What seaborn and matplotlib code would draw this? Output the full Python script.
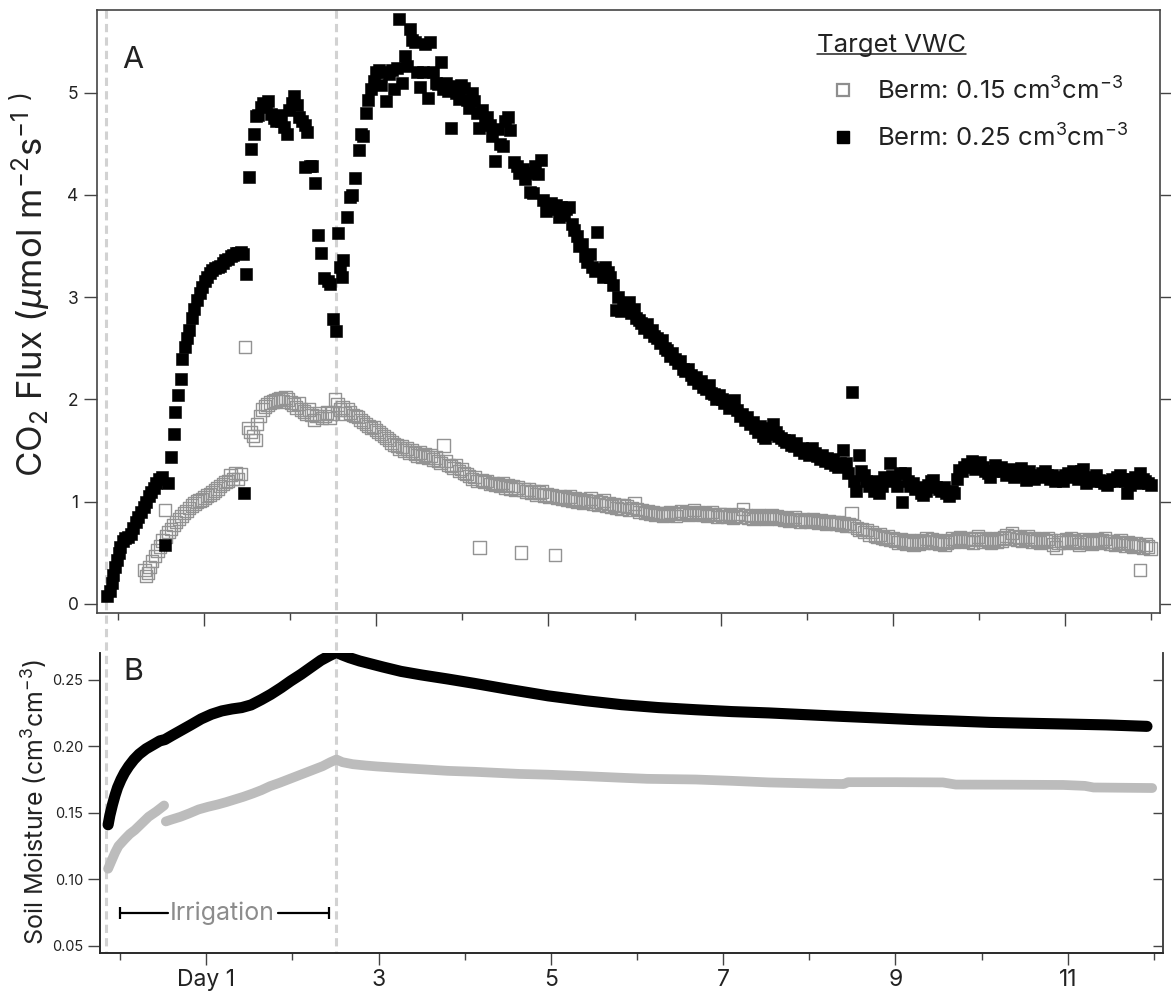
import matplotlib
matplotlib.use("Agg")
import numpy as np
import pandas as pd
import seaborn as sns
import matplotlib.pyplot as plt
from matplotlib.lines import Line2D
from matplotlib import transforms
from matplotlib.ticker import FixedLocator

# ---------------- data ----------------
# CO2 flux, target VWC 0.25 (black filled squares)
hi_day = [-0.12, -0.09, -0.07, -0.05, -0.03, -0.01, 0.01, 0.03, 0.06, 0.09, 0.12, 0.15, 0.18, 0.21, 0.24,
          0.27, 0.30, 0.33, 0.36, 0.39, 0.42, 0.45, 0.48, 0.52, 0.55, 0.58, 0.62, 0.65, 0.67, 0.70,
          0.73, 0.75, 0.78, 0.80, 0.83, 0.86, 0.89, 0.92, 0.95, 0.98, 1.01, 1.04, 1.07, 1.10, 1.13,
          1.16, 1.19, 1.22, 1.25, 1.28, 1.31, 1.34, 1.37, 1.40, 1.43, 1.46, 1.47, 1.49, 1.53, 1.55,
          1.58, 1.60, 1.63, 1.66, 1.69, 1.72, 1.75, 1.78, 1.81, 1.84, 1.87, 1.90, 1.93, 1.96, 1.99,
          2.02, 2.05, 2.08, 2.11, 2.14, 2.17, 2.18, 2.20, 2.23, 2.26, 2.29, 2.33, 2.36, 2.40, 2.44,
          2.47, 2.50, 2.53, 2.56, 2.58, 2.60, 2.62, 2.66, 2.70, 2.72, 2.76, 2.80, 2.83, 2.85, 2.88,
          2.91, 2.94, 2.97, 3.00, 3.03, 3.06, 3.09, 3.12, 3.15, 3.18, 3.21, 3.24, 3.27, 3.30, 3.33,
          3.36, 3.39, 3.42, 3.45, 3.48, 3.51, 3.54, 3.57, 3.60, 3.63, 3.66, 3.69, 3.72, 3.75, 3.78,
          3.81, 3.84, 3.87, 3.90, 3.93, 3.96, 3.99, 4.02, 4.05, 4.08, 4.11, 4.14, 4.17, 4.20, 4.23,
          4.26, 4.29, 4.32, 4.35, 4.38, 4.41, 4.44, 4.47, 4.50, 4.53, 4.56, 4.60, 4.63, 4.66, 4.70,
          4.73, 4.76, 4.79, 4.82, 4.85, 4.88, 4.91, 4.94, 4.97, 5.00, 5.03, 5.06, 5.09, 5.12, 5.15,
          5.18, 5.21, 5.24, 5.27, 5.30, 5.33, 5.36, 5.39, 5.42, 5.45, 5.48, 5.51, 5.54, 5.57, 5.60,
          5.63, 5.66, 5.69, 5.72, 5.75, 5.78, 5.81, 5.84, 5.87, 5.90, 5.93, 5.96, 5.99, 6.02, 6.05,
          6.08, 6.11, 6.14, 6.17, 6.20, 6.23, 6.26, 6.29, 6.32, 6.35, 6.38, 6.41, 6.44, 6.47, 6.50,
          6.53, 6.56, 6.59, 6.62, 6.65, 6.68, 6.71, 6.74, 6.77, 6.80, 6.83, 6.86, 6.89, 6.92, 6.95,
          6.98, 7.01, 7.04, 7.07, 7.10, 7.13, 7.16, 7.19, 7.22, 7.25, 7.28, 7.31, 7.34, 7.37, 7.40,
          7.43, 7.46, 7.49, 7.52, 7.55, 7.58, 7.61, 7.64, 7.67, 7.70, 7.73, 7.76, 7.79, 7.82, 7.85,
          7.88, 7.91, 7.94, 7.97, 8.00, 8.03, 8.06, 8.09, 8.12, 8.15, 8.18, 8.21, 8.24, 8.27, 8.30,
          8.33, 8.36, 8.39, 8.42, 8.45, 8.48, 8.52, 8.55, 8.57, 8.60, 8.63, 8.66, 8.69, 8.72, 8.75,
          8.78, 8.81, 8.84, 8.87, 8.90, 8.93, 8.96, 8.99, 9.02, 9.05, 9.08, 9.11, 9.14, 9.17, 9.20,
          9.23, 9.26, 9.29, 9.32, 9.35, 9.38, 9.41, 9.44, 9.47, 9.50, 9.53, 9.56, 9.59, 9.62, 9.65,
          9.68, 9.71, 9.74, 9.77, 9.80, 9.83, 9.86, 9.89, 9.92, 9.95, 9.98, 10.01, 10.04, 10.07, 10.10,
          10.13, 10.16, 10.19, 10.22, 10.25, 10.28, 10.31, 10.34, 10.37, 10.40, 10.43, 10.46, 10.49, 10.52, 10.55,
          10.58, 10.61, 10.64, 10.67, 10.70, 10.73, 10.76, 10.79, 10.82, 10.85, 10.88, 10.91, 10.94, 10.97, 11.00,
          11.03, 11.06, 11.09, 11.12, 11.15, 11.18, 11.21, 11.24, 11.27, 11.30, 11.33, 11.36, 11.39, 11.42, 11.45,
          11.48, 11.51, 11.54, 11.57, 11.60, 11.63, 11.66, 11.69, 11.72, 11.75, 11.78, 11.81, 11.84, 11.87, 11.90,
          11.93, 11.96, 11.99]
hi_flux = [0.08, 0.13, 0.20, 0.28, 0.36, 0.43, 0.50, 0.56, 0.61, 0.64, 0.65, 0.68, 0.74, 0.80, 0.85,
           0.90, 0.95, 1.00, 1.05, 1.09, 1.13, 1.18, 1.22, 1.24, 0.58, 1.18, 1.44, 1.66, 1.88, 2.04,
           2.20, 2.40, 2.51, 2.60, 2.68, 2.80, 2.88, 2.97, 3.04, 3.10, 3.16, 3.20, 3.24, 3.27, 3.29,
           3.30, 3.31, 3.33, 3.36, 3.37, 3.40, 3.41, 3.43, 3.43, 3.44, 3.42, 1.08, 3.23, 4.18, 4.45,
           4.60, 4.77, 4.78, 4.86, 4.90, 4.88, 4.92, 4.79, 4.75, 4.72, 4.78, 4.72, 4.67, 4.60, 4.83,
           4.90, 4.97, 4.88, 4.76, 4.72, 4.68, 4.27, 4.62, 4.28, 4.28, 4.12, 3.61, 3.43, 3.19, 3.16,
           3.13, 2.79, 2.67, 3.63, 3.30, 3.20, 3.36, 3.78, 3.98, 4.00, 4.17, 4.44, 4.60, 4.58, 4.80,
           4.93, 5.04, 5.12, 5.20, 5.22, 5.08, 5.20, 4.92, 5.18, 5.22, 5.04, 5.24, 5.72, 5.10, 5.36,
           5.26, 5.62, 5.52, 5.50, 5.20, 5.06, 5.20, 5.48, 4.95, 5.50, 5.20, 5.10, 5.09, 5.30, 5.04,
           5.10, 5.02, 4.66, 5.07, 5.00, 4.94, 5.08, 5.05, 4.93, 4.85, 5.00, 4.92, 4.80, 4.66, 4.83,
           4.72, 4.76, 4.68, 4.58, 4.33, 4.65, 4.50, 4.48, 4.72, 4.76, 4.64, 4.32, 4.28, 4.22, 4.25,
           4.16, 4.22, 4.03, 4.02, 4.28, 4.21, 4.34, 3.95, 3.84, 3.90, 3.92, 3.86, 3.90, 3.78, 3.88,
           3.80, 3.86, 3.88, 3.72, 3.66, 3.60, 3.50, 3.52, 3.40, 3.34, 3.42, 3.30, 3.26, 3.64, 3.28,
           3.20, 3.30, 3.25, 3.20, 3.12, 2.87, 3.00, 2.86, 2.92, 2.88, 2.95, 2.85, 2.88, 2.80, 2.78,
           2.75, 2.70, 2.74, 2.66, 2.68, 2.62, 2.60, 2.55, 2.58, 2.50, 2.48, 2.42, 2.45, 2.40, 2.36,
           2.38, 2.30, 2.28, 2.30, 2.24, 2.20, 2.22, 2.16, 2.18, 2.12, 2.10, 2.14, 2.06, 2.05, 2.00,
           2.04, 2.00, 1.96, 1.98, 1.92, 1.95, 1.99, 1.90, 1.84, 1.86, 1.80, 1.83, 1.76, 1.78, 1.72,
           1.68, 1.74, 1.64, 1.62, 1.66, 1.72, 1.76, 1.68, 1.64, 1.62, 1.60, 1.58, 1.60, 1.55, 1.54,
           1.57, 1.50, 1.52, 1.48, 1.50, 1.46, 1.52, 1.48, 1.45, 1.42, 1.46, 1.40, 1.43, 1.38, 1.42,
           1.36, 1.34, 1.38, 1.50, 1.38, 1.28, 2.07, 1.20, 1.10, 1.46, 1.30, 1.26, 1.20, 1.15, 1.18,
           1.10, 1.20, 1.08, 1.15, 1.24, 1.20, 1.38, 1.25, 1.22, 1.15, 1.28, 1.00, 1.28, 1.20, 1.15,
           1.18, 1.12, 1.14, 1.08, 1.06, 1.10, 1.16, 1.20, 1.21, 1.14, 1.12, 1.10, 1.14, 1.08, 1.05,
           1.10, 1.08, 1.22, 1.31, 1.30, 1.34, 1.37, 1.36, 1.40, 1.32, 1.38, 1.39, 1.34, 1.30, 1.28,
           1.24, 1.30, 1.36, 1.32, 1.34, 1.30, 1.26, 1.28, 1.32, 1.24, 1.28, 1.30, 1.33, 1.26, 1.21,
           1.30, 1.25, 1.22, 1.26, 1.24, 1.28, 1.30, 1.26, 1.22, 1.26, 1.20, 1.24, 1.22, 1.20, 1.26,
           1.28, 1.24, 1.30, 1.26, 1.22, 1.30, 1.32, 1.18, 1.24, 1.22, 1.20, 1.26, 1.21, 1.20, 1.18,
           1.16, 1.20, 1.22, 1.20, 1.24, 1.26, 1.22, 1.20, 1.08, 1.16, 1.22, 1.24, 1.18, 1.28, 1.22,
           1.20, 1.18, 1.16]

# CO2 flux, target VWC 0.15 (grey open squares)
lo_day = [0.31, 0.33, 0.35, 0.37, 0.40, 0.43, 0.46, 0.49, 0.52, 0.55, 0.56, 0.59, 0.62, 0.65, 0.68,
          0.71, 0.74, 0.77, 0.80, 0.83, 0.86, 0.89, 0.92, 0.95, 0.98, 1.01, 1.04, 1.07, 1.10, 1.13,
          1.16, 1.19, 1.22, 1.25, 1.28, 1.31, 1.34, 1.37, 1.40, 1.43, 1.48, 1.51, 1.54, 1.57, 1.60,
          1.62, 1.65, 1.68, 1.71, 1.74, 1.77, 1.80, 1.83, 1.86, 1.89, 1.92, 1.95, 1.98, 2.01, 2.04,
          2.07, 2.10, 2.13, 2.16, 2.19, 2.22, 2.25, 2.28, 2.31, 2.34, 2.37, 2.40, 2.43, 2.46, 2.49,
          2.52, 2.55, 2.58, 2.61, 2.64, 2.67, 2.70, 2.73, 2.76, 2.79, 2.82, 2.85, 2.88, 2.91, 2.94,
          2.97, 3.00, 3.03, 3.06, 3.09, 3.12, 3.15, 3.18, 3.21, 3.24, 3.27, 3.30, 3.33, 3.36, 3.39,
          3.42, 3.45, 3.48, 3.51, 3.54, 3.57, 3.60, 3.63, 3.66, 3.69, 3.72, 3.75, 3.78, 3.81, 3.84,
          3.87, 3.90, 3.93, 3.96, 3.99, 4.02, 4.05, 4.08, 4.11, 4.14, 4.17, 4.20, 4.23, 4.26, 4.29,
          4.32, 4.35, 4.38, 4.41, 4.44, 4.47, 4.50, 4.53, 4.56, 4.59, 4.62, 4.65, 4.68, 4.71, 4.74,
          4.77, 4.80, 4.83, 4.86, 4.89, 4.92, 4.95, 4.98, 5.01, 5.04, 5.08, 5.10, 5.13, 5.16, 5.19,
          5.22, 5.25, 5.28, 5.31, 5.34, 5.37, 5.40, 5.43, 5.46, 5.49, 5.52, 5.55, 5.58, 5.61, 5.64,
          5.67, 5.70, 5.73, 5.76, 5.79, 5.82, 5.85, 5.88, 5.91, 5.94, 5.97, 6.00, 6.03, 6.06, 6.09,
          6.12, 6.15, 6.18, 6.21, 6.24, 6.27, 6.30, 6.33, 6.36, 6.39, 6.42, 6.45, 6.48, 6.51, 6.54,
          6.57, 6.60, 6.63, 6.66, 6.69, 6.72, 6.75, 6.78, 6.81, 6.84, 6.87, 6.90, 6.93, 6.96, 6.99,
          7.02, 7.05, 7.08, 7.11, 7.14, 7.17, 7.20, 7.23, 7.26, 7.29, 7.32, 7.35, 7.38, 7.41, 7.44,
          7.47, 7.50, 7.53, 7.56, 7.59, 7.62, 7.65, 7.68, 7.71, 7.74, 7.77, 7.80, 7.83, 7.86, 7.89,
          7.92, 7.95, 7.98, 8.01, 8.04, 8.07, 8.10, 8.13, 8.16, 8.19, 8.22, 8.25, 8.28, 8.31, 8.34,
          8.37, 8.40, 8.43, 8.46, 8.49, 8.52, 8.55, 8.58, 8.61, 8.64, 8.67, 8.70, 8.73, 8.76, 8.79,
          8.82, 8.85, 8.88, 8.91, 8.94, 8.97, 9.00, 9.03, 9.06, 9.09, 9.12, 9.15, 9.18, 9.21, 9.24,
          9.27, 9.30, 9.33, 9.36, 9.39, 9.42, 9.45, 9.48, 9.51, 9.54, 9.57, 9.60, 9.63, 9.66, 9.69,
          9.72, 9.75, 9.78, 9.81, 9.84, 9.87, 9.90, 9.93, 9.96, 9.99, 10.02, 10.05, 10.08, 10.11, 10.14,
          10.17, 10.20, 10.23, 10.26, 10.29, 10.32, 10.35, 10.38, 10.41, 10.44, 10.47, 10.50, 10.53, 10.56, 10.59,
          10.62, 10.65, 10.68, 10.71, 10.74, 10.77, 10.80, 10.83, 10.86, 10.89, 10.92, 10.95, 10.98, 11.01, 11.04,
          11.07, 11.10, 11.13, 11.16, 11.19, 11.22, 11.25, 11.28, 11.31, 11.34, 11.37, 11.40, 11.43, 11.46, 11.49,
          11.52, 11.55, 11.58, 11.61, 11.64, 11.67, 11.70, 11.73, 11.76, 11.79, 11.82, 11.85, 11.87, 11.90, 11.93,
          11.96, 11.99]
lo_flux = [0.33, 0.27, 0.30, 0.36, 0.42, 0.47, 0.52, 0.56, 0.62, 0.92, 0.66, 0.70, 0.73, 0.77, 0.80,
           0.83, 0.86, 0.89, 0.91, 0.94, 0.96, 0.98, 1.00, 1.01, 1.02, 1.04, 1.06, 1.07, 1.09, 1.11,
           1.13, 1.15, 1.17, 1.19, 1.20, 1.26, 1.22, 1.28, 1.22, 1.27, 2.51, 1.72, 1.68, 1.64, 1.60,
           1.76, 1.84, 1.90, 1.93, 1.95, 1.97, 1.98, 1.99, 2.00, 2.01, 1.98, 2.02, 2.00, 1.97, 1.95,
           1.92, 1.96, 1.90, 1.88, 1.86, 1.90, 1.85, 1.80, 1.84, 1.86, 1.82, 1.84, 1.87, 1.82, 1.86,
           2.00, 1.95, 1.90, 1.92, 1.86, 1.90, 1.87, 1.85, 1.84, 1.83, 1.80, 1.78, 1.76, 1.74, 1.72,
           1.73, 1.70, 1.68, 1.66, 1.64, 1.62, 1.60, 1.58, 1.56, 1.55, 1.52, 1.54, 1.50, 1.52, 1.48,
           1.50, 1.47, 1.45, 1.48, 1.44, 1.46, 1.43, 1.45, 1.41, 1.43, 1.40, 1.38, 1.55, 1.40, 1.36,
           1.35, 1.33, 1.36, 1.30, 1.32, 1.28, 1.27, 1.25, 1.22, 1.24, 1.20, 0.55, 1.21, 1.19, 1.20,
           1.17, 1.18, 1.16, 1.17, 1.15, 1.18, 1.14, 1.16, 1.13, 1.15, 1.12, 1.14, 0.50, 1.12, 1.10,
           1.12, 1.09, 1.10, 1.07, 1.09, 1.10, 1.06, 1.07, 1.05, 1.06, 0.48, 1.04, 1.05, 1.03, 1.04,
           1.02, 1.05, 1.01, 1.03, 1.00, 1.02, 0.99, 1.01, 1.00, 1.03, 0.98, 1.00, 0.97, 0.99, 1.01,
           0.96, 0.98, 0.95, 0.97, 0.94, 0.96, 0.93, 0.96, 0.95, 0.92, 0.94, 0.98, 0.93, 0.90, 0.92,
           0.89, 0.91, 0.88, 0.90, 0.87, 0.89, 0.88, 0.86, 0.89, 0.87, 0.90, 0.88, 0.86, 0.89, 0.91,
           0.88, 0.90, 0.87, 0.89, 0.92, 0.88, 0.90, 0.87, 0.89, 0.86, 0.88, 0.90, 0.87, 0.85, 0.88,
           0.86, 0.88, 0.85, 0.87, 0.84, 0.86, 0.88, 0.85, 0.93, 0.87, 0.84, 0.86, 0.83, 0.85, 0.87,
           0.84, 0.86, 0.83, 0.85, 0.87, 0.84, 0.86, 0.83, 0.85, 0.82, 0.84, 0.81, 0.83, 0.85, 0.82,
           0.80, 0.83, 0.81, 0.82, 0.80, 0.83, 0.81, 0.79, 0.82, 0.80, 0.78, 0.81, 0.79, 0.80, 0.78,
           0.80, 0.77, 0.79, 0.76, 0.78, 0.89, 0.76, 0.74, 0.72, 0.73, 0.70, 0.72, 0.68, 0.70, 0.67,
           0.66, 0.68, 0.65, 0.64, 0.66, 0.63, 0.64, 0.62, 0.60, 0.63, 0.61, 0.59, 0.62, 0.60, 0.58,
           0.61, 0.59, 0.62, 0.60, 0.64, 0.61, 0.63, 0.60, 0.62, 0.59, 0.61, 0.58, 0.60, 0.62, 0.64,
           0.61, 0.63, 0.65, 0.62, 0.64, 0.61, 0.63, 0.60, 0.64, 0.66, 0.63, 0.61, 0.64, 0.62, 0.60,
           0.63, 0.61, 0.64, 0.62, 0.65, 0.67, 0.64, 0.69, 0.66, 0.63, 0.65, 0.62, 0.64, 0.66, 0.63,
           0.61, 0.64, 0.62, 0.60, 0.63, 0.61, 0.64, 0.62, 0.58, 0.55, 0.60, 0.62, 0.60, 0.63, 0.61,
           0.64, 0.62, 0.60, 0.58, 0.61, 0.63, 0.60, 0.62, 0.59, 0.61, 0.63, 0.60, 0.62, 0.64, 0.61,
           0.59, 0.61, 0.58, 0.60, 0.62, 0.59, 0.57, 0.60, 0.58, 0.56, 0.59, 0.57, 0.33, 0.55, 0.58,
           0.56, 0.54]

# Soil moisture, target 0.25 (black)
sm_hi_day = [-0.14, -0.12, -0.09, -0.06, -0.03, 0.01, 0.05, 0.10, 0.16, 0.22, 0.30, 0.38, 0.46, 0.52,
             0.60, 0.71, 0.82, 0.94, 1.06, 1.18, 1.30, 1.41, 1.52, 1.64, 1.75, 1.87, 1.98, 2.10, 2.22,
             2.33, 2.43, 2.51, 2.58, 2.66, 2.78, 2.90, 3.05, 3.26, 3.50, 3.80, 4.11, 4.50, 4.97, 5.40,
             5.82, 6.25, 6.68, 7.10, 7.53, 7.95, 8.38, 8.80, 9.24, 9.65, 10.09, 10.50, 10.95, 11.45, 11.92]
sm_hi_val = [0.141, 0.148, 0.156, 0.163, 0.169, 0.175, 0.180, 0.185, 0.190, 0.194, 0.198, 0.201, 0.204, 0.205,
             0.208, 0.212, 0.216, 0.2205, 0.224, 0.2265, 0.228, 0.229, 0.231, 0.235, 0.239, 0.244, 0.249, 0.254, 0.2595,
             0.2645, 0.268, 0.2705, 0.2685, 0.2665, 0.264, 0.262, 0.2595, 0.2562, 0.2535, 0.2505, 0.2472, 0.2428, 0.2378, 0.2342,
             0.2312, 0.229, 0.2274, 0.226, 0.225, 0.2237, 0.2224, 0.2212, 0.2199, 0.219, 0.2179, 0.2173, 0.2167, 0.216, 0.2149]

# Soil moisture, target 0.15 (grey), two logging segments
sm_lo_day_a = [-0.14, -0.10, -0.06, -0.02, 0.05, 0.11, 0.17, 0.25, 0.33, 0.42, 0.51]
sm_lo_val_a = [0.108, 0.114, 0.120, 0.125, 0.130, 0.134, 0.137, 0.142, 0.147, 0.151, 0.1555]
sm_lo_day_b = [0.53, 0.60, 0.70, 0.80, 0.91, 1.02, 1.13, 1.23, 1.33, 1.43, 1.54, 1.64, 1.74, 1.85, 1.95,
               2.05, 2.15, 2.25, 2.35, 2.44, 2.51, 2.58, 2.70, 2.85, 2.98, 3.26, 3.55, 3.80, 4.11, 4.63,
               4.97, 5.40, 5.82, 6.12, 6.68, 7.10, 7.53, 8.16, 8.40, 8.45, 9.00, 9.55, 9.70, 10.30, 10.95,
               11.20, 11.30, 11.98]
sm_lo_val_b = [0.1435, 0.145, 0.147, 0.1495, 0.1525, 0.1545, 0.1562, 0.158, 0.160, 0.162, 0.1645, 0.167, 0.170, 0.1725, 0.175,
               0.1775, 0.180, 0.1825, 0.185, 0.188, 0.190, 0.188, 0.1865, 0.1855, 0.1848, 0.1836, 0.1825, 0.1815, 0.1808, 0.1792,
               0.1786, 0.1775, 0.1763, 0.1755, 0.175, 0.174, 0.1728, 0.1718, 0.1716, 0.1730, 0.1730, 0.1728, 0.1712, 0.1711, 0.1709,
               0.1702, 0.1690, 0.1686]

event_days = [-0.14, 2.54]          # dashed reference lines
irrigation = [0.0, 2.42]            # irrigation period (days)
legend_labels = [r"Berm: 0.15 cm$^3$cm$^{-3}$", r"Berm: 0.25 cm$^3$cm$^{-3}$"]
major_days = [1, 3, 5, 7, 9, 11]
minor_days = [0, 2, 4, 6, 8, 10, 12]
day_labels = ["Day 1", "3", "5", "7", "9", "11"]
flux_ticks = [0, 1, 2, 3, 4, 5]
sm_ticks = [0.05, 0.10, 0.15, 0.20, 0.25]

# ---------------- style ----------------
sns.set_theme(style="white")
plt.rcParams["font.family"] = ["Inter", "DejaVu Sans"]
plt.rcParams["mathtext.fontset"] = "custom"
plt.rcParams["mathtext.rm"] = "Inter"
plt.rcParams["mathtext.it"] = "Inter:italic"
plt.rcParams["mathtext.default"] = "regular"
plt.rcParams["axes.unicode_minus"] = True

W, H = 1171, 992
fig = plt.figure(figsize=(W / 100, H / 100), dpi=100)
ax1 = fig.add_axes([97 / W, 1 - 613 / H, 1063 / W, 603 / H])
ax2 = fig.add_axes([99.5 / W, 1 - 953 / H, 1063 / W, 300 / H])
for ax in (ax1, ax2):
    ax.patch.set_visible(False)

XLIM = (-0.24, 12.1)
SPINE = "#444444"
TXT = "#222222"

# ---------------- panel A ----------------
df_lo = pd.DataFrame({"day": lo_day, "flux": lo_flux})
df_hi = pd.DataFrame({"day": hi_day, "flux": hi_flux})
sns.scatterplot(data=df_lo, x="day", y="flux", ax=ax1, marker="s", s=80,
                color="none", edgecolor="#939393", linewidth=1.0, legend=False, zorder=3)
sns.scatterplot(data=df_hi, x="day", y="flux", ax=ax1, marker="s", s=74,
                color="black", edgecolor="black", linewidth=0.4, legend=False, zorder=4)

ax1.set_xlim(*XLIM)
ax1.set_ylim(-0.09, 5.81)
ax1.xaxis.set_major_locator(FixedLocator(major_days))
ax1.xaxis.set_minor_locator(FixedLocator(minor_days))
ax1.set_xticklabels([])
ax1.set_yticks(flux_ticks)
ax1.set_yticklabels([str(v) for v in flux_ticks])
ax1.tick_params(axis="x", which="major", direction="out", length=9.4, width=1.0, color=SPINE, bottom=True, top=False)
ax1.tick_params(axis="x", which="minor", direction="out", length=5.0, width=1.0, color=SPINE, bottom=True, top=False)
ax1.tick_params(axis="y", which="major", direction="out", length=9.4, width=1.0, color=SPINE,
                left=True, right=True, labelleft=True, labelright=False, labelsize=12.5, labelcolor=TXT, pad=4)
for sp in ax1.spines.values():
    sp.set_visible(True)
    sp.set_color(SPINE)
    sp.set_linewidth(1.2)
ax1.set_xlabel("")
ax1.set_ylabel(r"CO$_2$ Flux ($\mathit{\mu}$mol m$^{-2}$s$^{-1}$ $^{)}$", fontsize=25, color=TXT)
ax1.yaxis.set_label_coords(-0.040, 0.545)
ax1.text(0.0235, 0.904, "A", transform=ax1.transAxes, fontsize=22, color=TXT, va="baseline", ha="left")

handles = [
    Line2D([], [], marker="s", ls="", markersize=8.5, markerfacecolor="none",
           markeredgecolor="#8e8e8e", markeredgewidth=1.6),
    Line2D([], [], marker="s", ls="", markersize=8.5, markerfacecolor="black",
           markeredgecolor="black"),
]
leg = ax1.legend(handles, legend_labels, loc="upper left",
                 bbox_to_anchor=((817 - 97) / 1063, (613 - 34) / 603),
                 frameon=False, fontsize=18.5, title="Target VWC", title_fontsize=18.5,
                 alignment="left", handlelength=2.0, handletextpad=0.35, labelspacing=0.78,
                 borderpad=0.0, borderaxespad=0.0)
for t in leg.get_texts():
    t.set_color(TXT)
leg.get_title().set_color(TXT)

# ---------------- panel B ----------------
df_sm_hi = pd.DataFrame({"day": sm_hi_day, "sm": sm_hi_val})
df_sm_lo_a = pd.DataFrame({"day": sm_lo_day_a, "sm": sm_lo_val_a})
df_sm_lo_b = pd.DataFrame({"day": sm_lo_day_b, "sm": sm_lo_val_b})
for d in (df_sm_lo_a, df_sm_lo_b):
    sns.lineplot(data=d, x="day", y="sm", ax=ax2, color="#bcbcbc", linewidth=7.0,
                 solid_capstyle="round", solid_joinstyle="round", sort=False, zorder=3)
sns.lineplot(data=df_sm_hi, x="day", y="sm", ax=ax2, color="black", linewidth=8.0,
             solid_capstyle="round", solid_joinstyle="round", sort=False, zorder=4)

ax2.set_xlim(*XLIM)
ax2.set_ylim(0.0447, 0.270)
ax2.xaxis.set_major_locator(FixedLocator(major_days))
ax2.xaxis.set_minor_locator(FixedLocator(minor_days))
ax2.set_xticklabels(day_labels)
ax2.set_yticks(sm_ticks)
ax2.set_yticklabels([f"{v:.2f}" for v in sm_ticks])
ax2.tick_params(axis="x", which="major", direction="out", length=8.6, width=1.0, color=SPINE,
                labelsize=16.5, labelcolor=TXT, pad=3, bottom=True, top=False)
ax2.tick_params(axis="x", which="minor", direction="out", length=5.0, width=1.0, color=SPINE, bottom=True, top=False)
ax2.tick_params(axis="y", which="major", direction="out", length=8.6, width=1.0, color=SPINE,
                left=True, right=False, labelsize=10.5, labelcolor=TXT, pad=3)
ax2.spines["top"].set_visible(False)
for k in ("left", "bottom", "right"):
    ax2.spines[k].set_visible(True)
    ax2.spines[k].set_color(SPINE)
    ax2.spines[k].set_linewidth(1.2)
ax2r = ax2.twinx()
ax2r.set_ylim(ax2.get_ylim())
ax2r.set_yticks(sm_ticks)
ax2r.tick_params(axis="y", direction="in", length=7, width=1.0, color=SPINE, labelright=False)
ax2r.spines["top"].set_visible(False)
ax2r.spines["right"].set_color(SPINE)
ax2r.spines["right"].set_linewidth(1.2)
ax2r.patch.set_visible(False)
ax2.set_xlabel("")
ax2.set_ylabel(r"Soil Moisture (cm$^3$cm$^{-3}$)", fontsize=18, color=TXT)
ax2.yaxis.set_label_coords(-0.047, 0.503)
ax2.text(0.022, 0.91, "B", transform=ax2.transAxes, fontsize=22, color=TXT, va="baseline", ha="left")

# irrigation bracket
y_irr = 0.0748
ax2.plot([irrigation[0], 0.55], [y_irr, y_irr], color="black", lw=1.6, zorder=5)
ax2.plot([1.83, irrigation[1]], [y_irr, y_irr], color="black", lw=1.6, zorder=5)
ax2.plot(irrigation, [y_irr, y_irr], ls="", marker="|", markersize=9, markeredgewidth=1.6, color="black", zorder=5)
ax2.text(1.19, y_irr - 0.0005, "Irrigation", color="#8c8c8c", fontsize=18, ha="center", va="center", zorder=5)

# dashed event lines through both panels
trans = transforms.blended_transform_factory(ax1.transData, fig.transFigure)
for d in event_days:
    fig.add_artist(Line2D([d, d], [1 - 10 / H, 1 - 953 / H], transform=trans, color="#d2d2d2",
                          lw=2.2, linestyle=(0, (2.7, 1.7)), zorder=-1))

# underline of legend title
fig.canvas.draw()
bb = leg.get_title().get_window_extent(fig.canvas.get_renderer())
inv = fig.transFigure.inverted()
(x0, y0), (x1, _) = inv.transform([(bb.x0, bb.y0 + 3), (bb.x1, bb.y0 + 3)])
fig.add_artist(Line2D([x0, x1], [y0, y0], transform=fig.transFigure, color=TXT, lw=1.1))

fig.savefig("out.png", dpi=100)
